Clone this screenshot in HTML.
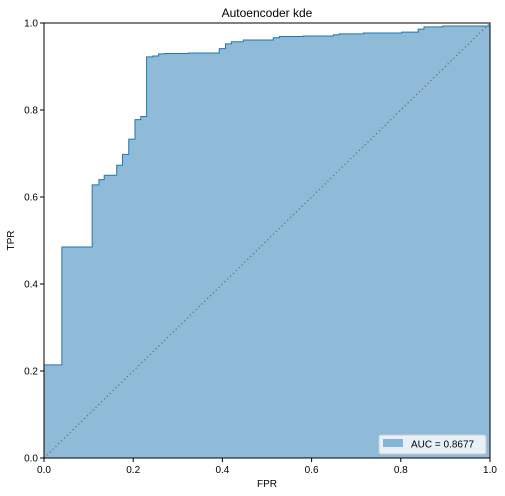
<!DOCTYPE html>
<html><head><meta charset="utf-8"><style>
html,body{margin:0;padding:0;background:#fff;}
svg{display:block;font-family:"Liberation Sans","DejaVu Sans",sans-serif;}
</style></head><body>
<svg id="chart" width="505" height="496"></svg>
<script>
const fprValues=[0,0,0.040,0.108,0.123,0.135,0.163,0.176,0.190,0.204,0.217,0.230,0.244,0.257,0.271,0.324,0.393,0.407,0.420,0.447,0.514,0.528,0.581,0.649,0.662,0.716,0.802,0.839,0.852,0.894,0.989,1.0];
const tprValues=[0,0.214,0.485,0.628,0.640,0.650,0.673,0.698,0.733,0.778,0.785,0.922,0.924,0.929,0.930,0.931,0.941,0.952,0.957,0.961,0.966,0.969,0.970,0.973,0.975,0.977,0.979,0.986,0.991,0.993,0.993,1.0];
const xTicks=[0,0.2,0.4,0.6,0.8,1.0];
const yTicks=[0,0.2,0.4,0.6,0.8,1.0];
const tickLabels=["0.0","0.2","0.4","0.6","0.8","1.0"];
const aucLabel="AUC = 0.8677";

const NS="http://www.w3.org/2000/svg";
const svg=document.getElementById('chart');
const L=44,R=490,T=23,B=458;
function sx(v){return L+v*(R-L);}
function sy(v){return B-v*(B-T);}
function mk(tag,attrs,parent){const e=document.createElementNS(NS,tag);for(const k in attrs)e.setAttribute(k,attrs[k]);(parent||svg).appendChild(e);return e;}

let d='M'+sx(fprValues[0])+','+sy(tprValues[0]);
for(let i=1;i<fprValues.length;i++){d+=' H'+sx(fprValues[i])+' V'+sy(tprValues[i]);}
const fill=mk('path',{d:d+' V'+sy(0)+' Z',fill:'#1f77b4','fill-opacity':'0.5',stroke:'none'});


const line=mk('path',{d:d,fill:'none',stroke:'#1f77b4','stroke-width':'1'});


const diag=mk('line',{x1:sx(0),y1:sy(0),x2:sx(1),y2:sy(1),stroke:'#6a6a6a','stroke-width':'1.2','stroke-dasharray':'1.2,2.8'});



const frame=mk('rect',{x:L,y:T,width:R-L,height:B-T,fill:'none',stroke:'#000','stroke-width':'1'});



xTicks.forEach((v,i)=>{
  const t=mk('line',{x1:sx(v),y1:B,x2:sx(v),y2:B+4,stroke:'#000'});
  
  
  const tx=mk('text',{x:sx(v),y:B+15,'font-size':'10','text-anchor':'middle',fill:'#000'});
  tx.textContent=tickLabels[i];
  
  
});
yTicks.forEach((v,i)=>{
  const t=mk('line',{x1:L-4,y1:sy(v),x2:L,y2:sy(v),stroke:'#000'});
  
  
  const tx=mk('text',{x:L-6,y:sy(v)+3.5,'font-size':'10','text-anchor':'end',fill:'#000'});
  tx.textContent=tickLabels[i];
  
  
});
const title=mk('text',{x:(L+R)/2,y:17,'font-size':'12','text-anchor':'middle',fill:'#000'});
title.textContent='Autoencoder kde';


const xl=mk('text',{x:(L+R)/2,y:487,'font-size':'10','text-anchor':'middle',fill:'#000'});
xl.textContent='FPR';


const yl=mk('text',{x:14,y:(T+B)/2,'font-size':'10','text-anchor':'middle',fill:'#000',transform:'rotate(-90 14 '+((T+B)/2)+')'});
yl.textContent='TPR';



const lg=mk('g',{});


mk('rect',{x:379,y:435,width:107,height:19,rx:2,fill:'#fff','fill-opacity':'0.8',stroke:'#ccc'},lg);
const sw=mk('rect',{x:383,y:439,width:20,height:8,fill:'#1f77b4','fill-opacity':'0.5'},lg);


const lt=mk('text',{x:411,y:447.5,'font-size':'10',fill:'#000'},lg);
lt.textContent=aucLabel;


</script>
</body></html>
